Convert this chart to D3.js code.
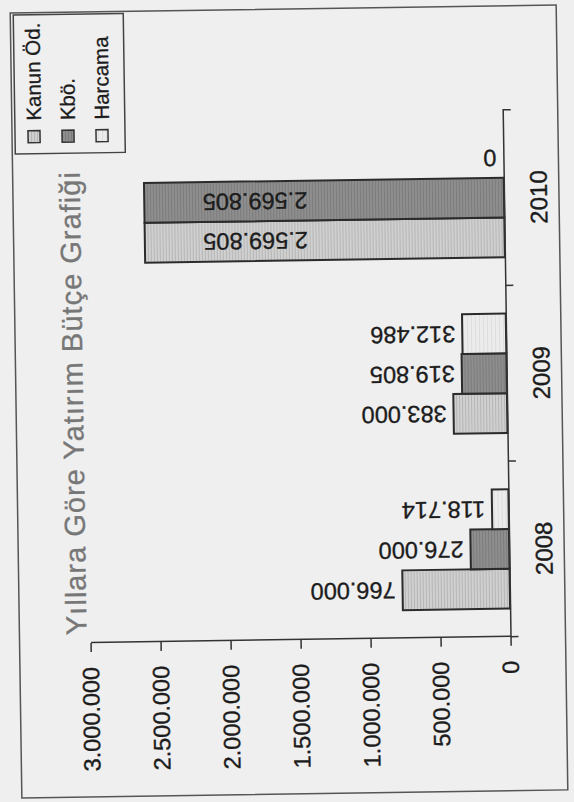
<!DOCTYPE html>
<html>
<head>
<meta charset="utf-8">
<script src="https://cdnjs.cloudflare.com/ajax/libs/d3/7.8.5/d3.min.js"></script>
<style>
  body { margin: 0; background: #efefef; }
  svg text { font-family: "Liberation Sans", Arial, sans-serif; }
</style>
</head>
<body>
<div id="chart"></div>
<script>
// values
var years = ["2008", "2009", "2010"];
var seriesNames = ["Kanun Öd.", "Kbö.", "Harcama"];
var kanunOd = [766000, 383000, 2569805];
var kbo = [276000, 319805, 2569805];
var harcama = [118714, 312486, 0];
var yTicks = [0, 500000, 1000000, 1500000, 2000000, 2500000, 3000000];
var titleText = "Yıllara Göre Yatırım Bütçe Grafiği";

var svgWidth = 574;
var svgHeight = 802;

// the chart is drawn upright in an 802 x 574 frame and then turned on its side,
// with the small tilt of the scan
var plot = { left: 162, right: 689, top: 87, bottom: 507 };

var fills = ["url(#patKanun)", "url(#patKbo)", "url(#patHarcama)"];
var inkColor = "#1c1c1c";

var svg = d3.select("#chart")
  .append("svg").attr("width", svgWidth).attr("height", svgHeight);

var defs = svg.append("defs");

function stripePattern(id, base, stripe, w) {
  var p = defs.append("pattern")
    .attr("id", id)
    .attr("patternUnits", "userSpaceOnUse")
    .attr("width", 6).attr("height", w);
  p.append("rect").attr("width", 6).attr("height", w).attr("fill", base);
  p.append("rect").attr("width", 6).attr("height", 1).attr("fill", stripe);
}
stripePattern("patKanun", "#d0d0d0", "#b6b6b6", 3);
stripePattern("patKbo", "#8e8e8e", "#7c7c7c", 3);
stripePattern("patHarcama", "#ececec", "#dddddd", 4);

svg.append("rect")
  .attr("width", svgWidth).attr("height", svgHeight)
  .attr("fill", "#efefef");

var page = svg.append("g")
  .attr("transform", `rotate(-0.85, 287, 401) translate(0, ${svgHeight}) rotate(-90)`);

// outer frame
page.append("rect")
  .attr("x", 8).attr("y", 16)
  .attr("width", 785).attr("height", 546)
  .attr("fill", "none")
  .attr("stroke", "#555")
  .attr("stroke-width", 1.5);

var data = years.map(function(year, i) {
  return { year: year, values: [kanunOd[i], kbo[i], harcama[i]] };
});

var x0 = d3.scaleBand().domain(years)
  .range([plot.left, plot.right])
  .paddingInner(0.32).paddingOuter(0.16);
var x1 = d3.scaleBand().domain(seriesNames).range([0, x0.bandwidth()]);
var xb = d3.scaleBand().domain(years).range([plot.left, plot.right]);
var y = d3.scaleLinear().domain([0, 3000000]).range([plot.bottom, plot.top]);

var trFormat = d3.formatLocale({ decimal: ",", thousands: ".", grouping: [3], currency: ["", ""] }).format(",");

// bars
var groups = page.selectAll(".year")
  .data(data)
  .enter()
  .append("g")
  .attr("transform", d => `translate(${x0(d.year)},0)`);

groups.selectAll("rect")
  .data(d => d.values.map((v, i) => ({ key: seriesNames[i], value: v, idx: i })))
  .enter()
  .append("rect")
  .filter(d => d.value > 0)
  .attr("x", d => x1(d.key))
  .attr("y", d => y(d.value))
  .attr("width", x1.bandwidth())
  .attr("height", d => y(0) - y(d.value))
  .attr("fill", d => fills[d.idx])
  .attr("stroke", "#2b2b2b")
  .attr("stroke-width", 2);

// value labels, turned like the scan; the tall 2010 bars carry them inside
groups.selectAll("text")
  .data(d => d.values.map((v, i) => ({ key: seriesNames[i], value: v })))
  .enter()
  .append("text")
  .attr("transform", function(d) {
    var cx = x1(d.key) + x1.bandwidth() / 2;
    var cy = d.value > 2000000 ? y(d.value) + 163 : y(d.value) - 7;
    return `translate(${cx},${cy}) rotate(-90)`;
  })
  .attr("dy", "0.35em")
  .attr("text-anchor", "start")
  .attr("font-size", "23.5px")
  .attr("fill", inkColor)
  .attr("stroke", inkColor)
  .attr("stroke-width", 0.35)
  .text(d => trFormat(d.value));

// value axis
var leftAxis = d3.axisLeft(y)
  .tickValues(yTicks)
  .tickFormat(trFormat)
  .tickSize(9)
  .tickSizeOuter(0)
  .tickPadding(15);

var yAxisG = page.append("g")
  .attr("transform", `translate(${plot.left},0)`)
  .call(leftAxis);
yAxisG.selectAll("text")
  .attr("font-size", "23.5px")
  .attr("fill", inkColor)
  .attr("stroke", inkColor)
  .attr("stroke-width", 0.35)
  .attr("font-family", null);
yAxisG.selectAll("path, line").attr("stroke", "#333").attr("stroke-width", 1.5);

// category axis, ticks between the years
var bottomAxis = d3.axisBottom(xb).tickSize(0).tickPadding(26);
var xAxisG = page.append("g")
  .attr("transform", `translate(0,${plot.bottom})`)
  .call(bottomAxis);
xAxisG.select(".domain").attr("stroke", "#333").attr("stroke-width", 1.5);
xAxisG.selectAll("text")
  .attr("font-size", "24px")
  .attr("fill", inkColor)
  .attr("stroke", inkColor)
  .attr("stroke-width", 0.35)
  .attr("font-family", null);

xAxisG.selectAll(".sep")
  .data(years.map(d => xb(d)).concat([xb.range()[1]]))
  .enter()
  .append("line")
  .attr("x1", d => d).attr("x2", d => d)
  .attr("y1", 0).attr("y2", 8)
  .attr("stroke", "#333")
  .attr("stroke-width", 1.5);

// title
page.append("text")
  .attr("x", (plot.left + plot.right) / 2 - 24)
  .attr("y", 83)
  .attr("text-anchor", "middle")
  .attr("font-size", "29px")
  .attr("fill", "#777")
  .attr("stroke", "#777")
  .attr("stroke-width", 0.3)
  .attr("textLength", 463)
  .attr("lengthAdjust", "spacing")
  .text(titleText);

// legend
var legend = page.append("g").attr("transform", "translate(652,19)");
legend.append("rect")
  .attr("width", 139).attr("height", 110)
  .attr("fill", "none")
  .attr("stroke", "#444")
  .attr("stroke-width", 1.5);

var legendItems = legend.selectAll(".item")
  .data(seriesNames)
  .enter()
  .append("g")
  .attr("transform", (d, i) => `translate(0,${19 + i * 34})`);

legendItems.append("rect")
  .attr("x", 11).attr("y", -6)
  .attr("width", 12).attr("height", 12)
  .attr("fill", (d, i) => fills[i])
  .attr("stroke", "#333")
  .attr("stroke-width", 1.5);

legendItems.append("text")
  .attr("x", 33)
  .attr("dy", "0.35em")
  .attr("font-size", "20.5px")
  .attr("fill", inkColor)
  .attr("stroke", inkColor)
  .attr("stroke-width", 0.3)
  .text(d => d);
</script>
</body>
</html>
